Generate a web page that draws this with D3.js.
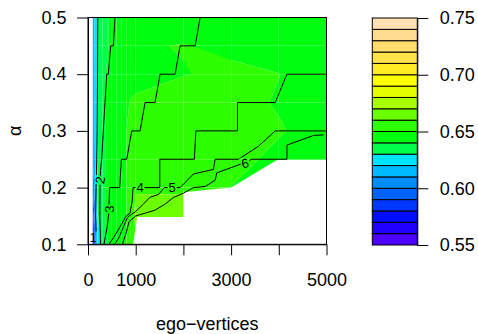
<!DOCTYPE html>
<html><head><meta charset="utf-8">
<script src="https://cdn.jsdelivr.net/npm/d3@7"></script>
<style>
body{margin:0;background:#fff}
text{font-family:"Liberation Sans",Arial,Helvetica,sans-serif}
</style>
</head><body>
<svg id="chart" width="478" height="334"></svg>
<script>
// ---------------- data ----------------
const xGrid = [100,200,300,400,500,600,700,800,900,1000,2000,3000,4000,5000];
const alphaGrid = [0.10,0.15,0.20,0.25,0.30,0.35,0.40,0.45,0.50];
// fill values: one row per alpha (bottom to top), one column per x
const fillRow010 = [0.563,0.626,0.633,0.639,0.643,0.645,0.647,0.6498,0.652,0.656,0.660,0.655,0.650,0.648];
const fillRow015 = [0.585,0.629,0.637,0.642,0.643,0.645,0.647,0.6498,0.653,0.665,0.665,0.658,0.650,0.648];
const fillRow020 = [0.600,0.631,0.637,0.642,0.643,0.645,0.647,0.6498,0.652,0.6585,0.6585,0.6499,0.646,0.646];
const fillRow025 = [0.611,0.631,0.637,0.642,0.643,0.645,0.647,0.6498,0.652,0.654,0.655,0.652,0.6485,0.6465];
const fillRow030 = [0.612,0.631,0.637,0.642,0.643,0.645,0.647,0.6498,0.652,0.653,0.654,0.653,0.6505,0.6475];
const fillRow035 = [0.612,0.631,0.637,0.642,0.643,0.645,0.647,0.649,0.6505,0.651,0.654,0.652,0.6495,0.647];
const fillRow040 = [0.612,0.631,0.637,0.641,0.643,0.644,0.645,0.646,0.647,0.6478,0.6497,0.6515,0.6501,0.647];
const fillRow045 = [0.613,0.631,0.636,0.639,0.642,0.643,0.644,0.645,0.647,0.6493,0.6503,0.6485,0.647,0.645];
const fillRow050 = [0.613,0.631,0.636,0.639,0.642,0.643,0.643,0.644,0.644,0.644,0.646,0.6455,0.645,0.644];
const fillValues = [fillRow010,fillRow015,fillRow020,fillRow025,fillRow030,fillRow035,fillRow040,fillRow045,fillRow050];
// region without data (left blank)
const missingRegion = [[945,0.1],[1030,0.148],[2000,0.148],[2000,0.192],[3000,0.2],[3970,0.249],[5000,0.249],[5000,0.1]];
// fill levels 0.55 .. 0.75
const fillLevels = d3.range(21).map(i => (55 + i) / 100);
// contour lines (second variable), levels 1..6
const contour1 = [[205,0.5],[200,0.4],[192,0.3],[183,0.25],[170,0.2],[160,0.15],[170,0.125],[175,0.112],[60,0.112]];
const contour2 = [[567,0.5],[531,0.45],[476,0.45],[426,0.4],[392,0.4],[357,0.35],[321,0.3],[288,0.25],[262,0.23],[252,0.2],[248,0.15],[262,0.1]];
const contour3 = [[2351,0.5],[2246,0.45],[1931,0.45],[1826,0.4],[1511,0.4],[1406,0.35],[1196,0.35],[1092,0.3],[917,0.3],[812,0.25],[700,0.25],[665,0.2],[455,0.2],[440,0.17],[430,0.15],[400,0.13],[335,0.1]];
const contour4 = [[5000,0.4],[4170,0.4],[3925,0.35],[3134,0.35],[3134,0.3],[2261,0.3],[2230,0.25],[1505,0.25],[1505,0.2],[945,0.2],[925,0.175],[880,0.155],[800,0.15],[700,0.135],[560,0.115],[440,0.1]];
const contour5 = [[5000,0.3],[3925,0.3],[3575,0.273],[3155,0.25],[2666,0.25],[2630,0.232],[2210,0.224],[1931,0.2],[1600,0.2],[1480,0.188],[1300,0.183],[1150,0.17],[1000,0.158],[830,0.148],[740,0.13],[650,0.112],[560,0.1]];
const contour6 = [[4940,0.293],[4730,0.292],[4171,0.275],[4171,0.25],[3436,0.25],[3155,0.24],[2700,0.226],[2666,0.213],[2456,0.202],[2210,0.2],[2000,0.19],[1800,0.183],[1600,0.17],[1400,0.16],[1200,0.155],[1000,0.15],[860,0.14],[800,0.12],[720,0.1]];
const contourLines = [contour1,contour2,contour3,contour4,contour5,contour6];
const contourLabelText = ["1","2","3","4","5","6"];
const contourLabelPos = [[105,0.112],[252,0.213],[440,0.162],[1090,0.2],[1763,0.2],[3295,0.243]];
const contourLabelAngle = [0,-80,-90,0,0,-12];
// axes
const xTicks = [0,1000,2000,3000,4000,5000];
const xTickLabels = ["0","1000","","3000","","5000"];
const yTicks = [0.1,0.2,0.3,0.4,0.5];
const legendTicks = [0.55,0.60,0.65,0.70,0.75];
const xTitle = "ego\u2212vertices";
const yTitle = "\u03b1";

// ---------------- palette (R topo.colors) ----------------
function hsv(h,s,v){
  const i = Math.floor(h*6), f = h*6 - i, p = v*(1-s), q = v*(1-s*f), t = v*(1-s*(1-f));
  let r,g,b;
  switch(((i%6)+6)%6){
    case 0: r=v;g=t;b=p;break; case 1: r=q;g=v;b=p;break; case 2: r=p;g=v;b=t;break;
    case 3: r=p;g=q;b=v;break; case 4: r=t;g=p;b=v;break; default: r=v;g=p;b=q;
  }
  return d3.rgb(Math.round(r*255),Math.round(g*255),Math.round(b*255)).formatHex();
}
function seq(a,b,n){ return n===1?[a]:d3.range(n).map(i=>a+(b-a)*i/(n-1)); }
function topoColors(n){
  const j=Math.floor(n/3), k=Math.floor(n/3), i=n-j-k;
  const out=[];
  seq(43/60,31/60,i).forEach(h=>out.push(hsv(h,1,1)));
  seq(23/60,11/60,j).forEach(h=>out.push(hsv(h,1,1)));
  const hs=seq(10/60,6/60,k), ss=seq(1,0.3,k);
  hs.forEach((h,m)=>out.push(hsv(h,ss[m],1)));
  return out;
}
const bandColors = topoColors(fillLevels.length-1);

// ---------------- layout ----------------
const svg = d3.select("#chart");
const P = {left:88, right:326.5, top:17.5, bottom:244.3};
const x = d3.scaleLinear().domain([0,5000]).range([P.left,P.right]);
const y = d3.scaleLinear().domain([0.1,0.5]).range([P.bottom,P.top]);

svg.append("defs").append("clipPath").attr("id","plotclip")
  .append("rect").attr("x",P.left).attr("y",P.top).attr("width",P.right-P.left).attr("height",P.bottom-P.top);

// R-style filled contour cell polygons
function cut(lo,hi,p1,p2,out){
  const [x1,y1,z1]=p1,[x2,y2,z2]=p2;
  if (z1>z2){
    if (z2>hi || z1<lo) return;
    if (z1<hi) out.push([x1,y1]);
    else { const c=(z1-hi)/(z1-z2); out.push([x1+c*(x2-x1), y1+c*(y2-y1)]); }
    if (!(z2>lo)) { const c=(z2-lo)/(z2-z1); out.push([x2-c*(x2-x1), y2-c*(y2-y1)]); }
  } else if (z1<z2){
    if (z2<lo || z1>hi) return;
    if (z1>lo) out.push([x1,y1]);
    else { const c=(z1-lo)/(z1-z2); out.push([x1+c*(x2-x1), y1+c*(y2-y1)]); }
    if (!(z2<hi)) { const c=(z2-hi)/(z2-z1); out.push([x2-c*(x2-x1), y2-c*(y2-y1)]); }
  } else {
    if (lo<=z1 && z1<=hi) out.push([x1,y1]);
  }
}
const gFill = svg.append("g").attr("clip-path","url(#plotclip)");
for (let j=0;j<alphaGrid.length-1;j++){
  for (let i=0;i<xGrid.length-1;i++){
    const c = [
      [xGrid[i],alphaGrid[j],fillValues[j][i]],
      [xGrid[i+1],alphaGrid[j],fillValues[j][i+1]],
      [xGrid[i+1],alphaGrid[j+1],fillValues[j+1][i+1]],
      [xGrid[i],alphaGrid[j+1],fillValues[j+1][i]]
    ];
    for (let k=0;k<fillLevels.length-1;k++){
      const pts=[];
      for (let e=0;e<4;e++) cut(fillLevels[k],fillLevels[k+1],c[e],c[(e+1)%4],pts);
      if (pts.length>2){
        gFill.append("path")
          .attr("d","M"+pts.map(p=>x(p[0])+","+y(p[1])).join("L")+"Z")
          .attr("fill",bandColors[k]);
      }
    }
  }
}
// blank (missing) region
gFill.append("path")
  .attr("d","M"+missingRegion.map(p=>x(p[0])+","+y(p[1])).join("L")+"Z")
  .attr("fill","#fff");

// contour lines with gaps under labels
const mask = svg.select("defs").append("mask").attr("id","labmask");
mask.append("rect").attr("x",0).attr("y",0).attr("width",478).attr("height",334).attr("fill","#fff");
contourLabelPos.forEach((p,i)=>{
  mask.append("rect").attr("x",-4.5).attr("y",-6).attr("width",9).attr("height",12)
    .attr("transform",`translate(${x(p[0])},${y(p[1])}) rotate(${contourLabelAngle[i]})`)
    .attr("fill","#000");
});
const line = d3.line().x(d=>x(d[0])).y(d=>y(d[1]));
const gLines = svg.append("g").attr("clip-path","url(#plotclip)");
const gMasked = gLines.append("g").attr("mask","url(#labmask)");
contourLines.forEach(l=>{
  gMasked.append("path").attr("d",line(l)).attr("fill","none").attr("stroke","#000").attr("stroke-width",1);
});
contourLabelPos.forEach((p,i)=>{
  svg.append("text").text(contourLabelText[i])
    .attr("transform",`translate(${x(p[0])},${y(p[1])}) rotate(${contourLabelAngle[i]})`)
    .attr("text-anchor","middle").attr("dy","0.36em")
    .attr("font-size",13).attr("fill","#000");
});

// box
svg.append("rect").attr("x",P.left).attr("y",P.top).attr("width",P.right-P.left).attr("height",P.bottom-P.top)
  .attr("fill","none").attr("stroke","#000").attr("stroke-width",1);

// axes
const ax = svg.append("g").attr("transform",`translate(0,${P.bottom})`)
  .call(d3.axisBottom(x).tickValues(xTicks).tickFormat((d,i)=>xTickLabels[i]).tickSize(11).tickSizeOuter(0).tickPadding(18));
const ay = svg.append("g").attr("transform",`translate(${P.left},0)`)
  .call(d3.axisLeft(y).tickValues(yTicks).tickFormat(d3.format(".1f")).tickSize(11).tickSizeOuter(0).tickPadding(10.5));
[ax,ay].forEach(g=>{
  g.selectAll("text").attr("font-size",18).attr("fill","#000").attr("font-family","'Liberation Sans',Arial,sans-serif");
  g.selectAll("line").attr("stroke","#000");
  g.select(".domain").attr("stroke","#000");
});

svg.append("text").text(xTitle).attr("x",207.3).attr("y",329.5).attr("text-anchor","middle").attr("font-size",18);
svg.append("text").text(yTitle).attr("transform","translate(20.5,130.9) rotate(-90)").attr("text-anchor","middle").attr("font-size",18);

// legend
const L = {left:372.3, right:417.3};
const yl = d3.scaleLinear().domain([0.55,0.75]).range([245,18]);
const gLeg = svg.append("g");
bandColors.forEach((col,k)=>{
  gLeg.append("rect").attr("x",L.left).attr("y",yl(fillLevels[k+1]))
    .attr("width",L.right-L.left).attr("height",yl(fillLevels[k])-yl(fillLevels[k+1]))
    .attr("fill",col).attr("stroke","#000").attr("stroke-width",1);
});
const al = svg.append("g").attr("transform",`translate(${L.right},0)`)
  .call(d3.axisRight(yl).tickValues(legendTicks).tickFormat(d3.format(".2f")).tickSize(11).tickSizeOuter(0).tickPadding(11.5));
al.selectAll("text").attr("font-size",18).attr("fill","#000").attr("font-family","'Liberation Sans',Arial,sans-serif");
al.selectAll("line").attr("stroke","#000");
al.select(".domain").attr("stroke","#000");
</script>
</body></html>
